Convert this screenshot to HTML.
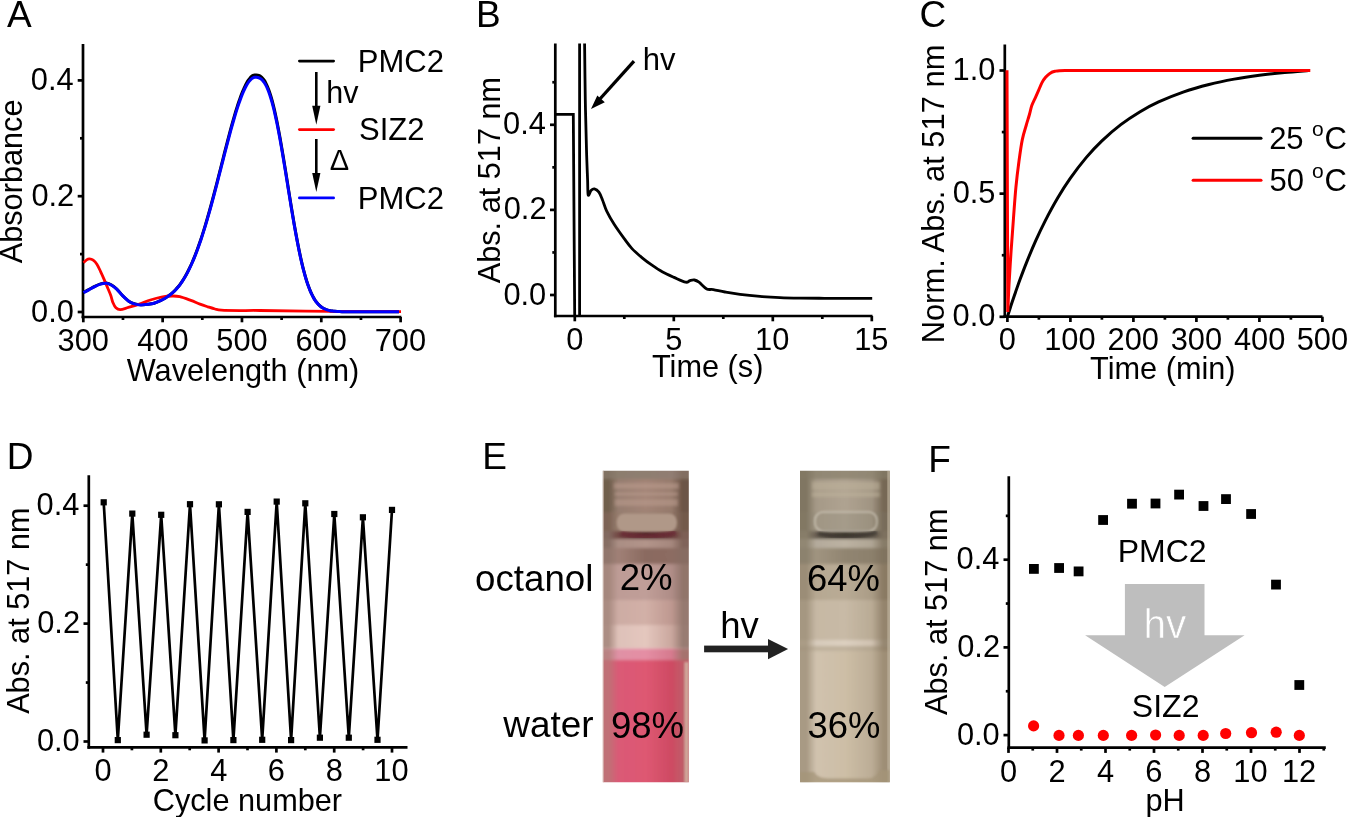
<!DOCTYPE html><html><head><meta charset="utf-8"><style>html,body{margin:0;padding:0;background:#fff;}svg{display:block;will-change:transform;}</style></head><body>
<svg width="1350" height="817" viewBox="0 0 1350 817" font-family='"Liberation Sans", sans-serif'>
<rect width="1350" height="817" fill="#fff"/>
<text x="6.93" y="26.8" font-size="37" fill="#000" >A</text>
<line x1="83" y1="44" x2="83" y2="318.35" stroke="#000" stroke-width="2.7" />
<line x1="81.65" y1="317" x2="401.4" y2="317" stroke="#000" stroke-width="2.7" />
<line x1="83.3" y1="317" x2="83.3" y2="322.3" stroke="#000" stroke-width="2.7" />
<text x="57.62" y="350.6" font-size="30.8" fill="#000" >300</text>
<line x1="162.63" y1="317" x2="162.63" y2="322.3" stroke="#000" stroke-width="2.7" />
<text x="137.18" y="350.6" font-size="30.8" fill="#000" >400</text>
<line x1="241.96" y1="317" x2="241.96" y2="322.3" stroke="#000" stroke-width="2.7" />
<text x="216.25" y="350.6" font-size="30.8" fill="#000" >500</text>
<line x1="321.29" y1="317" x2="321.29" y2="322.3" stroke="#000" stroke-width="2.7" />
<text x="295.42" y="350.6" font-size="30.8" fill="#000" >600</text>
<line x1="400.62" y1="317" x2="400.62" y2="322.3" stroke="#000" stroke-width="2.7" />
<text x="374.74" y="350.6" font-size="30.8" fill="#000" >700</text>
<line x1="122.97" y1="317" x2="122.97" y2="320" stroke="#000" stroke-width="2.7" />
<line x1="202.3" y1="317" x2="202.3" y2="320" stroke="#000" stroke-width="2.7" />
<line x1="281.62" y1="317" x2="281.62" y2="320" stroke="#000" stroke-width="2.7" />
<line x1="360.96" y1="317" x2="360.96" y2="320" stroke="#000" stroke-width="2.7" />
<line x1="77.7" y1="312" x2="83" y2="312" stroke="#000" stroke-width="2.7" />
<text x="31.09" y="321.5" font-size="30.8" fill="#000" >0.0</text>
<line x1="77.7" y1="196.2" x2="83" y2="196.2" stroke="#000" stroke-width="2.7" />
<text x="31.43" y="205.7" font-size="30.8" fill="#000" >0.2</text>
<line x1="77.7" y1="80.4" x2="83" y2="80.4" stroke="#000" stroke-width="2.7" />
<text x="30.79" y="89.9" font-size="30.8" fill="#000" >0.4</text>
<line x1="80" y1="254.1" x2="83" y2="254.1" stroke="#000" stroke-width="2.7" />
<line x1="80" y1="138.3" x2="83" y2="138.3" stroke="#000" stroke-width="2.7" />
<text x="126.77" y="380.8" font-size="30.7" fill="#000" >Wavelength (nm)</text>
<text transform="translate(22.3 263.26) rotate(-90)" x="0" y="0" font-size="30.7" fill="#000">Absorbance</text>
<path d="M83.5,292.41 C84.38,291.95 86.93,290.69 88.8,289.68 C90.67,288.67 92.73,287.32 94.7,286.35 C96.67,285.37 98.65,284.38 100.6,283.82 C102.55,283.27 104.57,282.83 106.4,283.01 C108.23,283.2 109.88,283.94 111.6,284.93 C113.32,285.93 114.88,287.22 116.7,288.97 C118.52,290.72 120.43,293.37 122.5,295.44 C124.57,297.51 127.02,299.96 129.1,301.39 C131.18,302.83 133.05,303.45 135,304.02 C136.95,304.59 138.85,304.78 140.8,304.83 C142.75,304.88 144.48,304.59 146.7,304.32 C148.92,304.05 151.71,303.88 154.1,303.21 C156.49,302.54 159.49,300.99 161.04,300.29 C162.6,299.6 162.63,299.47 163.42,299.02 C164.22,298.58 165.01,298.12 165.8,297.63 C166.6,297.13 167.39,296.62 168.18,296.07 C168.98,295.51 169.77,294.93 170.56,294.3 C171.36,293.67 172.15,293.01 172.94,292.29 C173.74,291.56 174.53,290.8 175.32,289.97 C176.12,289.14 176.91,288.27 177.7,287.32 C178.5,286.38 179.29,285.37 180.08,284.3 C180.88,283.22 181.67,282.08 182.46,280.87 C183.26,279.66 184.05,278.38 184.84,277.02 C185.64,275.66 186.43,274.23 187.22,272.72 C188.02,271.21 188.81,269.63 189.6,267.97 C190.4,266.31 191.19,264.57 191.98,262.76 C192.78,260.94 193.7,258.7 194.36,257.08 C195.02,255.46 195.42,254.42 195.95,253.04 C196.48,251.65 197.01,250.24 197.54,248.79 C198.06,247.34 198.59,245.86 199.12,244.34 C199.65,242.83 200.18,241.28 200.71,239.69 C201.24,238.11 201.77,236.5 202.3,234.86 C202.82,233.21 203.35,231.54 203.88,229.83 C204.41,228.12 204.94,226.39 205.47,224.62 C206,222.86 206.53,221.07 207.05,219.25 C207.58,217.43 208.11,215.58 208.64,213.71 C209.17,211.84 209.7,209.94 210.23,208.02 C210.76,206.1 211.29,204.16 211.81,202.2 C212.34,200.24 212.87,198.25 213.4,196.25 C213.93,194.25 214.46,192.23 214.99,190.2 C215.52,188.17 216.05,186.12 216.57,184.06 C217.1,182 217.63,179.93 218.16,177.85 C218.69,175.77 219.22,173.68 219.75,171.59 C220.28,169.49 220.81,167.4 221.33,165.3 C221.86,163.2 222.39,161.1 222.92,159.01 C223.45,156.91 223.98,154.82 224.51,152.74 C225.04,150.65 225.57,148.57 226.09,146.51 C226.62,144.45 227.15,142.39 227.68,140.36 C228.21,138.33 228.74,136.31 229.27,134.31 C229.8,132.32 230.32,130.34 230.85,128.39 C231.38,126.45 231.91,124.52 232.44,122.63 C232.97,120.74 233.5,118.88 234.03,117.06 C234.56,115.24 235.08,113.45 235.61,111.7 C236.14,109.96 236.67,108.25 237.2,106.6 C237.73,104.94 238.26,103.32 238.79,101.76 C239.32,100.21 239.84,98.69 240.37,97.24 C240.9,95.79 241.43,94.39 241.96,93.05 C242.49,91.72 243.02,90.44 243.55,89.23 C244.08,88.02 244.6,86.87 245.13,85.8 C245.66,84.72 246.19,83.71 246.72,82.78 C247.25,81.85 247.78,80.99 248.31,80.21 C248.84,79.44 249.36,78.73 249.89,78.12 C250.42,77.5 250.95,76.96 251.48,76.52 C252.01,76.07 252.54,75.71 253.07,75.45 C253.6,75.19 254.12,75.03 254.65,74.95 C255.18,74.87 255.71,74.92 256.24,74.95 C256.77,74.99 257.3,75.04 257.83,75.17 C258.35,75.29 258.88,75.46 259.41,75.71 C259.94,75.96 260.47,76.27 261,76.67 C261.53,77.08 262.06,77.56 262.59,78.14 C263.11,78.73 263.64,79.4 264.17,80.19 C264.7,80.98 265.23,81.86 265.76,82.87 C266.29,83.87 266.82,84.98 267.35,86.22 C267.87,87.45 268.4,88.8 268.93,90.27 C269.46,91.74 269.99,93.33 270.52,95.04 C271.05,96.75 271.58,98.58 272.11,100.52 C272.63,102.47 273.16,104.54 273.69,106.72 C274.22,108.9 274.75,111.2 275.28,113.59 C275.81,115.99 276.34,118.51 276.87,121.11 C277.39,123.71 277.92,126.43 278.45,129.21 C278.98,132 279.51,134.89 280.04,137.84 C280.57,140.79 281.1,143.83 281.62,146.92 C282.15,150 282.68,153.17 283.21,156.36 C283.74,159.55 284.27,162.8 284.8,166.07 C285.33,169.34 285.86,172.65 286.38,175.96 C286.91,179.27 287.44,182.6 287.97,185.92 C288.5,189.24 289.03,192.57 289.56,195.87 C290.09,199.16 290.62,202.45 291.14,205.69 C291.67,208.93 292.2,212.15 292.73,215.31 C293.26,218.47 293.79,221.59 294.32,224.64 C294.85,227.68 295.38,230.68 295.9,233.59 C296.43,236.51 296.96,239.36 297.49,242.12 C298.02,244.88 298.55,247.56 299.08,250.15 C299.61,252.74 300.14,255.24 300.66,257.65 C301.19,260.06 301.72,262.37 302.25,264.59 C302.78,266.81 303.31,268.93 303.84,270.95 C304.37,272.97 304.9,274.9 305.42,276.73 C305.95,278.55 306.48,280.28 307.01,281.92 C307.54,283.56 308.07,285.1 308.6,286.55 C309.13,288 309.65,289.36 310.18,290.63 C310.71,291.91 311.24,293.09 311.77,294.2 C312.3,295.31 312.83,296.33 313.36,297.29 C313.89,298.25 314.41,299.12 314.94,299.94 C315.47,300.76 316,301.5 316.53,302.19 C317.06,302.88 317.59,303.5 318.12,304.08 C318.65,304.65 319.17,305.17 319.7,305.65 C320.23,306.13 320.76,306.55 321.29,306.94 C321.82,307.34 322.22,307.62 322.88,308 C323.54,308.38 324.46,308.87 325.26,309.21 C326.05,309.56 326.84,309.83 327.64,310.07 C328.43,310.31 329.22,310.5 330.02,310.67 C330.81,310.83 331.6,310.96 332.4,311.07 C333.19,311.18 333.98,311.26 334.78,311.33 C335.57,311.41 336.36,311.46 337.16,311.5 C337.95,311.55 338.74,311.58 339.54,311.61 C340.33,311.64 341.12,311.66 341.92,311.68 C342.71,311.69 343.5,311.71 344.3,311.72 C345.09,311.73 345.88,311.73 346.68,311.74 C347.47,311.74 348.26,311.75 349.06,311.75 C349.85,311.75 350.64,311.76 351.44,311.76 C352.23,311.76 353.02,311.76 353.82,311.76 C354.61,311.76 355.4,311.76 356.2,311.76 C356.99,311.76 357.78,311.76 358.58,311.77 C359.37,311.77 360.16,311.77 360.96,311.77 C361.75,311.77 362.54,311.77 363.33,311.77 C364.13,311.77 364.92,311.77 365.71,311.77 C366.51,311.77 367.3,311.77 368.09,311.77 C368.89,311.77 369.68,311.77 370.47,311.77 C371.27,311.77 372.06,311.77 372.85,311.77 C373.65,311.77 374.44,311.77 375.23,311.77 C376.03,311.77 376.82,311.77 377.61,311.77 C378.41,311.77 379.2,311.77 379.99,311.77 C380.79,311.77 381.58,311.77 382.37,311.77 C383.17,311.77 383.96,311.77 384.75,311.77 C385.55,311.77 386.34,311.77 387.13,311.77 C387.93,311.77 388.72,311.77 389.51,311.77 C390.31,311.77 391.1,311.77 391.89,311.77 C392.69,311.77 393.48,311.77 394.27,311.77 C395.07,311.77 395.86,311.77 396.65,311.77 C397.45,311.77 398.64,311.77 399.03,311.77" fill="none" stroke="#000" stroke-width="3"/>
<path d="M83.5,262.8 C84.02,262.3 85.6,260.45 86.6,259.8 C87.6,259.15 88.4,258.83 89.5,258.9 C90.6,258.97 91.97,259.32 93.2,260.2 C94.43,261.08 95.67,262.3 96.9,264.2 C98.13,266.1 99.38,269.03 100.6,271.6 C101.82,274.17 102.98,276.78 104.2,279.6 C105.42,282.42 106.8,285.85 107.9,288.5 C109,291.15 109.97,293.17 110.8,295.5 C111.63,297.83 112.05,300.45 112.9,302.5 C113.75,304.55 114.67,306.62 115.9,307.8 C117.13,308.98 118.22,309.67 120.3,309.6 C122.38,309.53 125.22,308.32 128.4,307.4 C131.58,306.48 135.73,305.33 139.4,304.1 C143.07,302.87 146.73,301.17 150.4,300 C154.07,298.83 157.73,297.77 161.4,297.1 C165.07,296.43 169.33,296.07 172.4,296 C175.47,295.93 176.73,295.97 179.8,296.7 C182.87,297.43 187.43,299.17 190.8,300.4 C194.17,301.63 197.15,303.03 200,304.1 C202.85,305.17 205.4,305.98 207.9,306.8 C210.4,307.62 212.75,308.43 215,309 C217.25,309.57 217.23,309.93 221.4,310.2 C225.57,310.47 233.57,310.55 240,310.6 C246.43,310.65 245,310.38 260,310.5 C275,310.62 306.5,311.12 330,311.3 C353.5,311.48 389.17,311.55 401,311.6" fill="none" stroke="#f00" stroke-width="2.8"/>
<path d="M83.5,292.6 C84.38,292.15 86.93,290.9 88.8,289.9 C90.67,288.9 92.73,287.57 94.7,286.6 C96.67,285.63 98.65,284.65 100.6,284.1 C102.55,283.55 104.57,283.12 106.4,283.3 C108.23,283.48 109.88,284.22 111.6,285.2 C113.32,286.18 114.88,287.47 116.7,289.2 C118.52,290.93 120.43,293.55 122.5,295.6 C124.57,297.65 127.02,300.08 129.1,301.5 C131.18,302.92 133.05,303.53 135,304.1 C136.95,304.67 138.85,304.85 140.8,304.9 C142.75,304.95 144.48,304.67 146.7,304.4 C148.92,304.13 151.71,303.96 154.1,303.3 C156.49,302.64 159.49,301.1 161.04,300.41 C162.6,299.72 162.63,299.59 163.42,299.15 C164.22,298.71 165.01,298.26 165.8,297.77 C166.6,297.28 167.39,296.77 168.18,296.23 C168.98,295.68 169.77,295.1 170.56,294.48 C171.36,293.85 172.15,293.2 172.94,292.48 C173.74,291.77 174.53,291.01 175.32,290.19 C176.12,289.37 176.91,288.5 177.7,287.57 C178.5,286.63 179.29,285.64 180.08,284.57 C180.88,283.51 181.67,282.38 182.46,281.18 C183.26,279.98 184.05,278.71 184.84,277.36 C185.64,276.02 186.43,274.6 187.22,273.11 C188.02,271.62 188.81,270.05 189.6,268.41 C190.4,266.76 191.19,265.04 191.98,263.25 C192.78,261.45 193.7,259.23 194.36,257.62 C195.02,256.02 195.42,254.99 195.95,253.62 C196.48,252.25 197.01,250.85 197.54,249.42 C198.06,247.98 198.59,246.51 199.12,245.01 C199.65,243.51 200.18,241.98 200.71,240.41 C201.24,238.85 201.77,237.25 202.3,235.62 C202.82,233.99 203.35,232.33 203.88,230.64 C204.41,228.96 204.94,227.24 205.47,225.49 C206,223.74 206.53,221.97 207.05,220.17 C207.58,218.37 208.11,216.54 208.64,214.68 C209.17,212.83 209.7,210.95 210.23,209.05 C210.76,207.15 211.29,205.23 211.81,203.29 C212.34,201.34 212.87,199.38 213.4,197.4 C213.93,195.42 214.46,193.42 214.99,191.41 C215.52,189.39 216.05,187.36 216.57,185.32 C217.1,183.29 217.63,181.23 218.16,179.17 C218.69,177.12 219.22,175.05 219.75,172.98 C220.28,170.91 220.81,168.83 221.33,166.75 C221.86,164.68 222.39,162.59 222.92,160.52 C223.45,158.45 223.98,156.38 224.51,154.31 C225.04,152.25 225.57,150.19 226.09,148.15 C226.62,146.11 227.15,144.07 227.68,142.06 C228.21,140.05 228.74,138.05 229.27,136.07 C229.8,134.1 230.32,132.14 230.85,130.21 C231.38,128.28 231.91,126.38 232.44,124.51 C232.97,122.64 233.5,120.79 234.03,118.99 C234.56,117.18 235.08,115.41 235.61,113.69 C236.14,111.96 236.67,110.27 237.2,108.63 C237.73,106.99 238.26,105.39 238.79,103.85 C239.32,102.3 239.84,100.81 240.37,99.37 C240.9,97.93 241.43,96.54 241.96,95.22 C242.49,93.9 243.02,92.63 243.55,91.43 C244.08,90.24 244.6,89.1 245.13,88.04 C245.66,86.97 246.19,85.97 246.72,85.05 C247.25,84.13 247.78,83.28 248.31,82.51 C248.84,81.74 249.36,81.04 249.89,80.43 C250.42,79.82 250.95,79.29 251.48,78.85 C252.01,78.41 252.54,78.05 253.07,77.79 C253.6,77.53 254.12,77.38 254.65,77.3 C255.18,77.22 255.71,77.26 256.24,77.3 C256.77,77.34 257.3,77.39 257.83,77.51 C258.35,77.64 258.88,77.8 259.41,78.05 C259.94,78.3 260.47,78.6 261,79 C261.53,79.4 262.06,79.88 262.59,80.46 C263.11,81.04 263.64,81.71 264.17,82.49 C264.7,83.27 265.23,84.14 265.76,85.14 C266.29,86.13 266.82,87.23 267.35,88.45 C267.87,89.68 268.4,91.01 268.93,92.46 C269.46,93.92 269.99,95.49 270.52,97.19 C271.05,98.88 271.58,100.69 272.11,102.62 C272.63,104.55 273.16,106.6 273.69,108.75 C274.22,110.91 274.75,113.18 275.28,115.56 C275.81,117.93 276.34,120.42 276.87,123 C277.39,125.58 277.92,128.26 278.45,131.02 C278.98,133.79 279.51,136.65 280.04,139.57 C280.57,142.49 281.1,145.5 281.62,148.55 C282.15,151.61 282.68,154.74 283.21,157.9 C283.74,161.06 284.27,164.28 284.8,167.51 C285.33,170.75 285.86,174.03 286.38,177.3 C286.91,180.58 287.44,183.88 287.97,187.17 C288.5,190.46 289.03,193.75 289.56,197.02 C290.09,200.28 290.62,203.54 291.14,206.75 C291.67,209.95 292.2,213.14 292.73,216.27 C293.26,219.4 293.79,222.49 294.32,225.5 C294.85,228.52 295.38,231.49 295.9,234.37 C296.43,237.25 296.96,240.08 297.49,242.81 C298.02,245.54 298.55,248.2 299.08,250.76 C299.61,253.32 300.14,255.81 300.66,258.19 C301.19,260.57 301.72,262.86 302.25,265.06 C302.78,267.25 303.31,269.35 303.84,271.36 C304.37,273.36 304.9,275.27 305.42,277.08 C305.95,278.89 306.48,280.6 307.01,282.22 C307.54,283.84 308.07,285.36 308.6,286.8 C309.13,288.24 309.65,289.58 310.18,290.84 C310.71,292.11 311.24,293.28 311.77,294.38 C312.3,295.48 312.83,296.49 313.36,297.44 C313.89,298.38 314.41,299.25 314.94,300.06 C315.47,300.87 316,301.6 316.53,302.28 C317.06,302.97 317.59,303.58 318.12,304.16 C318.65,304.73 319.17,305.24 319.7,305.71 C320.23,306.18 320.76,306.61 321.29,306.99 C321.82,307.38 322.22,307.67 322.88,308.04 C323.54,308.41 324.46,308.9 325.26,309.24 C326.05,309.58 326.84,309.85 327.64,310.09 C328.43,310.33 329.22,310.51 330.02,310.68 C330.81,310.84 331.6,310.97 332.4,311.08 C333.19,311.19 333.98,311.27 334.78,311.34 C335.57,311.41 336.36,311.46 337.16,311.51 C337.95,311.55 338.74,311.59 339.54,311.61 C340.33,311.64 341.12,311.66 341.92,311.68 C342.71,311.7 343.5,311.71 344.3,311.72 C345.09,311.73 345.88,311.74 346.68,311.74 C347.47,311.75 348.26,311.75 349.06,311.75 C349.85,311.76 350.64,311.76 351.44,311.76 C352.23,311.76 353.02,311.76 353.82,311.76 C354.61,311.77 355.4,311.77 356.2,311.77 C356.99,311.77 357.78,311.77 358.58,311.77 C359.37,311.77 360.16,311.77 360.96,311.77 C361.75,311.77 362.54,311.77 363.33,311.77 C364.13,311.77 364.92,311.77 365.71,311.77 C366.51,311.77 367.3,311.77 368.09,311.77 C368.89,311.77 369.68,311.77 370.47,311.77 C371.27,311.77 372.06,311.77 372.85,311.77 C373.65,311.77 374.44,311.77 375.23,311.77 C376.03,311.77 376.82,311.77 377.61,311.77 C378.41,311.77 379.2,311.77 379.99,311.77 C380.79,311.77 381.58,311.77 382.37,311.77 C383.17,311.77 383.96,311.77 384.75,311.77 C385.55,311.77 386.34,311.77 387.13,311.77 C387.93,311.77 388.72,311.77 389.51,311.77 C390.31,311.77 391.1,311.77 391.89,311.77 C392.69,311.77 393.48,311.77 394.27,311.77 C395.07,311.77 395.86,311.77 396.65,311.77 C397.45,311.77 398.64,311.77 399.03,311.77" fill="none" stroke="#00f" stroke-width="3"/>
<line x1="299.4" y1="61.1" x2="333.6" y2="61.1" stroke="#000" stroke-width="2.8" stroke-linecap="round"/>
<line x1="299.4" y1="129.6" x2="333.6" y2="129.6" stroke="#f00" stroke-width="2.8" stroke-linecap="round"/>
<line x1="299.4" y1="197.9" x2="333.6" y2="197.9" stroke="#00f" stroke-width="2.8" stroke-linecap="round"/>
<line x1="316.3" y1="72" x2="316.3" y2="108.8" stroke="#000" stroke-width="2.6" />
<path d="M312.2,105.8 L320.4,105.8 L316.3,124.8Z" fill="#000"/>
<line x1="316.3" y1="139" x2="316.3" y2="176" stroke="#000" stroke-width="2.6" />
<path d="M312.2,173 L320.4,173 L316.3,192Z" fill="#000"/>
<text x="357.86" y="72" font-size="31" fill="#000" >PMC2</text>
<text x="358.99" y="140.2" font-size="31" fill="#000" >SIZ2</text>
<text x="357.86" y="208.5" font-size="31" fill="#000" >PMC2</text>
<text x="326.29" y="102.8" font-size="30.5" fill="#000" >hv</text>
<text x="329.74" y="170" font-size="29" fill="#000" >Δ</text>
<text x="476.06" y="26.8" font-size="37" fill="#000" >B</text>
<line x1="555.3" y1="43.5" x2="555.3" y2="317.35" stroke="#000" stroke-width="2.7" />
<line x1="553.95" y1="316" x2="872.5" y2="316" stroke="#000" stroke-width="2.7" />
<line x1="574.8" y1="316" x2="574.8" y2="321.3" stroke="#000" stroke-width="2.7" />
<text x="566.24" y="349.6" font-size="30.8" fill="#000" >0</text>
<line x1="673.8" y1="316" x2="673.8" y2="321.3" stroke="#000" stroke-width="2.7" />
<text x="665.27" y="349.6" font-size="30.8" fill="#000" >5</text>
<line x1="772.8" y1="316" x2="772.8" y2="321.3" stroke="#000" stroke-width="2.7" />
<text x="755.1" y="349.6" font-size="30.8" fill="#000" >10</text>
<line x1="871.8" y1="316" x2="871.8" y2="321.3" stroke="#000" stroke-width="2.7" />
<text x="854.14" y="349.6" font-size="30.8" fill="#000" >15</text>
<line x1="624.3" y1="316" x2="624.3" y2="319" stroke="#000" stroke-width="2.7" />
<line x1="723.3" y1="316" x2="723.3" y2="319" stroke="#000" stroke-width="2.7" />
<line x1="822.3" y1="316" x2="822.3" y2="319" stroke="#000" stroke-width="2.7" />
<line x1="550" y1="295" x2="555.3" y2="295" stroke="#000" stroke-width="2.7" />
<text x="503.39" y="304.5" font-size="30.8" fill="#000" >0.0</text>
<line x1="550" y1="209.9" x2="555.3" y2="209.9" stroke="#000" stroke-width="2.7" />
<text x="503.73" y="219.4" font-size="30.8" fill="#000" >0.2</text>
<line x1="550" y1="124.8" x2="555.3" y2="124.8" stroke="#000" stroke-width="2.7" />
<text x="503.09" y="134.3" font-size="30.8" fill="#000" >0.4</text>
<line x1="552.3" y1="252.45" x2="555.3" y2="252.45" stroke="#000" stroke-width="2.7" />
<line x1="552.3" y1="167.35" x2="555.3" y2="167.35" stroke="#000" stroke-width="2.7" />
<line x1="552.3" y1="82.25" x2="555.3" y2="82.25" stroke="#000" stroke-width="2.7" />
<text x="652.01" y="377.4" font-size="30.7" fill="#000" >Time (s)</text>
<text transform="translate(500.1 283.26) rotate(-90)" x="0" y="0" font-size="30.7" fill="#000">Abs. at 517 nm</text>
<clipPath id="cb"><rect x="556" y="43.5" width="317" height="272"/></clipPath>
<path clip-path="url(#cb)" d="M555.3,114.3 L573.3,114.3 L574.8,330 L579.6,330 L579.6,30 L584.3,30 L584.3,30 C584.35,32.33 584.43,32.33 584.6,44 C584.77,55.67 584.98,82.33 585.3,100 C585.62,117.67 586.12,136.67 586.5,150 C586.88,163.33 587.32,172.5 587.6,180 C587.88,187.5 587.63,193.25 588.2,195 C588.77,196.75 589.97,191.52 591,190.5 C592.03,189.48 593.08,188.62 594.4,188.9 C595.72,189.18 597.55,190.35 598.9,192.2 C600.25,194.05 601.2,196.85 602.5,200 C603.8,203.15 604.78,207.1 606.7,211.1 C608.62,215.1 611.05,219.37 614,224 C616.95,228.63 621.4,234.8 624.4,238.9 C627.4,243 629.03,245.45 632,248.6 C634.97,251.75 638.87,255.03 642.2,257.8 C645.53,260.57 648.67,262.87 652,265.2 C655.33,267.53 658.53,269.77 662.2,271.8 C665.87,273.83 670.1,275.67 674,277.4 C677.9,279.13 682.93,281.67 685.6,282.2 C688.27,282.73 688.53,280.97 690,280.6 C691.47,280.23 692.9,279.73 694.4,280 C695.9,280.27 696.95,280.72 699,282.2 C701.05,283.68 704.32,287.67 706.7,288.9 C709.08,290.13 710.25,289.08 713.3,289.6 C716.35,290.12 720.55,291.2 725,292 C729.45,292.8 734.17,293.67 740,294.4 C745.83,295.13 753.33,295.87 760,296.4 C766.67,296.93 773.33,297.32 780,297.6 C786.67,297.88 792.6,297.98 800,298.1 C807.4,298.22 816.07,298.25 824.4,298.3 C832.73,298.35 842.03,298.38 850,298.4 C857.97,298.42 868.5,298.4 872.2,298.4" fill="none" stroke="#000" stroke-width="2.8" stroke-linejoin="miter"/>
<line x1="634" y1="61.1" x2="599" y2="100" stroke="#000" stroke-width="3.3"/>
<path d="M591,109.1 L597.3,95.6 L604.8,102.3 Z" fill="#000"/>
<text x="642.85" y="69.7" font-size="31" fill="#000" >hv</text>
<text x="919.42" y="27" font-size="37" fill="#000" >C</text>
<line x1="1004.8" y1="44.5" x2="1004.8" y2="318.05" stroke="#000" stroke-width="2.7" />
<line x1="1003.45" y1="316.7" x2="1322.5" y2="316.7" stroke="#000" stroke-width="2.7" />
<line x1="1007.4" y1="316.7" x2="1007.4" y2="322" stroke="#000" stroke-width="2.7" />
<text x="998.84" y="349.9" font-size="30.8" fill="#000" >0</text>
<line x1="1070.4" y1="316.7" x2="1070.4" y2="322" stroke="#000" stroke-width="2.7" />
<text x="1044.13" y="349.9" font-size="30.8" fill="#000" >100</text>
<line x1="1133.4" y1="316.7" x2="1133.4" y2="322" stroke="#000" stroke-width="2.7" />
<text x="1107.53" y="349.9" font-size="30.8" fill="#000" >200</text>
<line x1="1196.4" y1="316.7" x2="1196.4" y2="322" stroke="#000" stroke-width="2.7" />
<text x="1170.72" y="349.9" font-size="30.8" fill="#000" >300</text>
<line x1="1259.4" y1="316.7" x2="1259.4" y2="322" stroke="#000" stroke-width="2.7" />
<text x="1233.95" y="349.9" font-size="30.8" fill="#000" >400</text>
<line x1="1322.4" y1="316.7" x2="1322.4" y2="322" stroke="#000" stroke-width="2.7" />
<text x="1296.69" y="349.9" font-size="30.8" fill="#000" >500</text>
<line x1="1038.9" y1="316.7" x2="1038.9" y2="319.7" stroke="#000" stroke-width="2.7" />
<line x1="1101.9" y1="316.7" x2="1101.9" y2="319.7" stroke="#000" stroke-width="2.7" />
<line x1="1164.9" y1="316.7" x2="1164.9" y2="319.7" stroke="#000" stroke-width="2.7" />
<line x1="1227.9" y1="316.7" x2="1227.9" y2="319.7" stroke="#000" stroke-width="2.7" />
<line x1="1290.9" y1="316.7" x2="1290.9" y2="319.7" stroke="#000" stroke-width="2.7" />
<line x1="999.5" y1="316.8" x2="1004.8" y2="316.8" stroke="#000" stroke-width="2.7" />
<text x="952.59" y="326.3" font-size="30.8" fill="#000" >0.0</text>
<line x1="999.5" y1="193.65" x2="1004.8" y2="193.65" stroke="#000" stroke-width="2.7" />
<text x="952.68" y="203.15" font-size="30.8" fill="#000" >0.5</text>
<line x1="999.5" y1="70.5" x2="1004.8" y2="70.5" stroke="#000" stroke-width="2.7" />
<text x="952.59" y="80" font-size="30.8" fill="#000" >1.0</text>
<line x1="1001.8" y1="255.23" x2="1004.8" y2="255.23" stroke="#000" stroke-width="2.7" />
<line x1="1001.8" y1="132.07" x2="1004.8" y2="132.07" stroke="#000" stroke-width="2.7" />
<text x="1090.11" y="379.2" font-size="30.7" fill="#000" >Time (min)</text>
<text transform="translate(944 343.37) rotate(-90)" x="0" y="0" font-size="30.9" fill="#000">Norm. Abs. at 517 nm</text>
<path d="M1007.4,316.8 C1007.92,315.15 1009.5,310.15 1010.55,306.93 C1011.6,303.7 1012.12,302 1013.7,297.44 C1015.27,292.88 1017.9,285.3 1020,279.57 C1022.1,273.84 1023.67,269.56 1026.3,263.07 C1028.92,256.59 1032.6,247.72 1035.75,240.68 C1038.9,233.63 1041.53,227.96 1045.2,220.81 C1048.88,213.66 1053.6,204.88 1057.8,197.77 C1062,190.66 1065.68,184.83 1070.4,178.14 C1075.12,171.45 1080.9,163.85 1086.15,157.63 C1091.4,151.42 1096.12,146.34 1101.9,140.84 C1107.68,135.35 1114.5,129.48 1120.8,124.66 C1127.1,119.84 1133.4,115.72 1139.7,111.93 C1146,108.14 1151.25,105.27 1158.6,101.92 C1165.95,98.56 1175.4,94.72 1183.8,91.81 C1192.2,88.9 1200.6,86.58 1209,84.47 C1217.4,82.35 1225.8,80.67 1234.2,79.14 C1242.6,77.6 1251,76.38 1259.4,75.26 C1267.8,74.15 1276.41,73.25 1284.6,72.45 C1292.79,71.66 1304.55,70.83 1308.54,70.5" fill="none" stroke="#000" stroke-width="3"/>
<path d="M1007,70.3 L1007.4,200 L1007.8,312 L1007.8,312 C1008,307.5 1008.45,295.17 1009,285 C1009.55,274.83 1010.35,262.17 1011.1,251 C1011.85,239.83 1012.7,228.62 1013.5,218 C1014.3,207.38 1014.98,196.8 1015.9,187.3 C1016.82,177.8 1017.93,168.95 1019,161 C1020.07,153.05 1021.08,145.6 1022.3,139.6 C1023.52,133.6 1025.13,129.1 1026.3,125 C1027.47,120.9 1028.38,118.23 1029.3,115 C1030.22,111.77 1030.8,108.47 1031.8,105.6 C1032.8,102.73 1034.15,100.38 1035.3,97.8 C1036.45,95.22 1037.57,92.67 1038.7,90.1 C1039.83,87.53 1040.95,84.53 1042.1,82.4 C1043.25,80.27 1044.32,78.8 1045.6,77.3 C1046.88,75.8 1048.23,74.4 1049.8,73.4 C1051.37,72.4 1052.47,71.78 1055,71.3 C1057.53,70.82 1057.5,70.65 1065,70.5 C1072.5,70.35 1077.5,70.42 1100,70.4 C1122.5,70.38 1164.95,70.38 1200,70.4 C1235.05,70.42 1291.92,70.48 1310.3,70.5" fill="none" stroke="#f00" stroke-width="3"/>
<line x1="1193.1" y1="138.3" x2="1261" y2="138.3" stroke="#000" stroke-width="3.0" stroke-linecap="round"/>
<line x1="1193.1" y1="180.2" x2="1261" y2="180.2" stroke="#f00" stroke-width="3.0" stroke-linecap="round"/>
<text x="1269.14" y="149.3" font-size="31" fill="#000" >25</text>
<text x="1312.12" y="136.4" font-size="21" fill="#000" >o</text>
<text x="1324.43" y="149.3" font-size="31" fill="#000" >C</text>
<text x="1269.46" y="190.6" font-size="31" fill="#000" >50</text>
<text x="1312.12" y="177.7" font-size="21" fill="#000" >o</text>
<text x="1324.43" y="190.6" font-size="31" fill="#000" >C</text>
<text x="6.86" y="468.5" font-size="37" fill="#000" >D</text>
<line x1="88.8" y1="475.3" x2="88.8" y2="748.65" stroke="#000" stroke-width="2.7" />
<line x1="87.45" y1="747.3" x2="407.5" y2="747.3" stroke="#000" stroke-width="2.7" />
<line x1="103" y1="747.3" x2="103" y2="752.6" stroke="#000" stroke-width="2.7" />
<text x="94.44" y="780.5" font-size="30.8" fill="#000" >0</text>
<line x1="160.8" y1="747.3" x2="160.8" y2="752.6" stroke="#000" stroke-width="2.7" />
<text x="152.24" y="780.5" font-size="30.8" fill="#000" >2</text>
<line x1="218.6" y1="747.3" x2="218.6" y2="752.6" stroke="#000" stroke-width="2.7" />
<text x="210.13" y="780.5" font-size="30.8" fill="#000" >4</text>
<line x1="276.4" y1="747.3" x2="276.4" y2="752.6" stroke="#000" stroke-width="2.7" />
<text x="267.73" y="780.5" font-size="30.8" fill="#000" >6</text>
<line x1="334.2" y1="747.3" x2="334.2" y2="752.6" stroke="#000" stroke-width="2.7" />
<text x="325.64" y="780.5" font-size="30.8" fill="#000" >8</text>
<line x1="392" y1="747.3" x2="392" y2="752.6" stroke="#000" stroke-width="2.7" />
<text x="374.3" y="780.5" font-size="30.8" fill="#000" >10</text>
<line x1="131.9" y1="747.3" x2="131.9" y2="750.3" stroke="#000" stroke-width="2.7" />
<line x1="189.7" y1="747.3" x2="189.7" y2="750.3" stroke="#000" stroke-width="2.7" />
<line x1="247.5" y1="747.3" x2="247.5" y2="750.3" stroke="#000" stroke-width="2.7" />
<line x1="305.3" y1="747.3" x2="305.3" y2="750.3" stroke="#000" stroke-width="2.7" />
<line x1="363.1" y1="747.3" x2="363.1" y2="750.3" stroke="#000" stroke-width="2.7" />
<line x1="83.5" y1="741.5" x2="88.8" y2="741.5" stroke="#000" stroke-width="2.7" />
<text x="36.89" y="751" font-size="30.8" fill="#000" >0.0</text>
<line x1="83.5" y1="623.6" x2="88.8" y2="623.6" stroke="#000" stroke-width="2.7" />
<text x="37.23" y="633.1" font-size="30.8" fill="#000" >0.2</text>
<line x1="83.5" y1="505.7" x2="88.8" y2="505.7" stroke="#000" stroke-width="2.7" />
<text x="36.59" y="515.2" font-size="30.8" fill="#000" >0.4</text>
<line x1="85.8" y1="682.55" x2="88.8" y2="682.55" stroke="#000" stroke-width="2.7" />
<line x1="85.8" y1="564.65" x2="88.8" y2="564.65" stroke="#000" stroke-width="2.7" />
<text x="152.74" y="810.5" font-size="30.7" fill="#000" >Cycle number</text>
<text transform="translate(28.8 713.86) rotate(-90)" x="0" y="0" font-size="30.7" fill="#000">Abs. at 517 nm</text>
<path d="M103.7,502.3 L117.8,740.1 L132.3,513.6 L146.6,734.7 L161.2,514.8 L175.4,735.2 L190,504.2 L204.6,740.4 L218.9,504.3 L233.4,740.1 L247.6,511.9 L262.2,739.8 L276.7,501.6 L291.1,740.1 L305.3,503.3 L319.9,737.7 L334.3,514 L348.8,737.7 L362.9,517.3 L377.5,739.8 L392,509.9" fill="none" stroke="#000" stroke-width="2.7" stroke-linejoin="miter" stroke-miterlimit="10"/>
<rect x="100.6" y="499.2" width="6.2" height="6.2" fill="#000"/>
<rect x="114.7" y="737" width="6.2" height="6.2" fill="#000"/>
<rect x="129.2" y="510.5" width="6.2" height="6.2" fill="#000"/>
<rect x="143.5" y="731.6" width="6.2" height="6.2" fill="#000"/>
<rect x="158.1" y="511.7" width="6.2" height="6.2" fill="#000"/>
<rect x="172.3" y="732.1" width="6.2" height="6.2" fill="#000"/>
<rect x="186.9" y="501.1" width="6.2" height="6.2" fill="#000"/>
<rect x="201.5" y="737.3" width="6.2" height="6.2" fill="#000"/>
<rect x="215.8" y="501.2" width="6.2" height="6.2" fill="#000"/>
<rect x="230.3" y="737" width="6.2" height="6.2" fill="#000"/>
<rect x="244.5" y="508.8" width="6.2" height="6.2" fill="#000"/>
<rect x="259.1" y="736.7" width="6.2" height="6.2" fill="#000"/>
<rect x="273.6" y="498.5" width="6.2" height="6.2" fill="#000"/>
<rect x="288" y="737" width="6.2" height="6.2" fill="#000"/>
<rect x="302.2" y="500.2" width="6.2" height="6.2" fill="#000"/>
<rect x="316.8" y="734.6" width="6.2" height="6.2" fill="#000"/>
<rect x="331.2" y="510.9" width="6.2" height="6.2" fill="#000"/>
<rect x="345.7" y="734.6" width="6.2" height="6.2" fill="#000"/>
<rect x="359.8" y="514.2" width="6.2" height="6.2" fill="#000"/>
<rect x="374.4" y="736.7" width="6.2" height="6.2" fill="#000"/>
<rect x="388.9" y="506.8" width="6.2" height="6.2" fill="#000"/>
<text x="928.16" y="471.7" font-size="37" fill="#000" >F</text>
<line x1="1008.8" y1="476.3" x2="1008.8" y2="748.95" stroke="#000" stroke-width="2.7" />
<line x1="1007.45" y1="747.6" x2="1325.8" y2="747.6" stroke="#000" stroke-width="2.7" />
<line x1="1008.5" y1="747.6" x2="1008.5" y2="752.9" stroke="#000" stroke-width="2.7" />
<text x="999.94" y="781.8" font-size="30.8" fill="#000" >0</text>
<line x1="1057" y1="747.6" x2="1057" y2="752.9" stroke="#000" stroke-width="2.7" />
<text x="1048.44" y="781.8" font-size="30.8" fill="#000" >2</text>
<line x1="1105.5" y1="747.6" x2="1105.5" y2="752.9" stroke="#000" stroke-width="2.7" />
<text x="1097.03" y="781.8" font-size="30.8" fill="#000" >4</text>
<line x1="1154" y1="747.6" x2="1154" y2="752.9" stroke="#000" stroke-width="2.7" />
<text x="1145.33" y="781.8" font-size="30.8" fill="#000" >6</text>
<line x1="1202.5" y1="747.6" x2="1202.5" y2="752.9" stroke="#000" stroke-width="2.7" />
<text x="1193.94" y="781.8" font-size="30.8" fill="#000" >8</text>
<line x1="1251" y1="747.6" x2="1251" y2="752.9" stroke="#000" stroke-width="2.7" />
<text x="1233.3" y="781.8" font-size="30.8" fill="#000" >10</text>
<line x1="1299.5" y1="747.6" x2="1299.5" y2="752.9" stroke="#000" stroke-width="2.7" />
<text x="1281.97" y="781.8" font-size="30.8" fill="#000" >12</text>
<line x1="1032.75" y1="747.6" x2="1032.75" y2="750.6" stroke="#000" stroke-width="2.7" />
<line x1="1081.25" y1="747.6" x2="1081.25" y2="750.6" stroke="#000" stroke-width="2.7" />
<line x1="1129.75" y1="747.6" x2="1129.75" y2="750.6" stroke="#000" stroke-width="2.7" />
<line x1="1178.25" y1="747.6" x2="1178.25" y2="750.6" stroke="#000" stroke-width="2.7" />
<line x1="1226.75" y1="747.6" x2="1226.75" y2="750.6" stroke="#000" stroke-width="2.7" />
<line x1="1275.25" y1="747.6" x2="1275.25" y2="750.6" stroke="#000" stroke-width="2.7" />
<line x1="1323.75" y1="747.6" x2="1323.75" y2="750.6" stroke="#000" stroke-width="2.7" />
<line x1="1003.5" y1="735.1" x2="1008.8" y2="735.1" stroke="#000" stroke-width="2.7" />
<text x="956.89" y="744.6" font-size="30.8" fill="#000" >0.0</text>
<line x1="1003.5" y1="647.4" x2="1008.8" y2="647.4" stroke="#000" stroke-width="2.7" />
<text x="957.23" y="656.9" font-size="30.8" fill="#000" >0.2</text>
<line x1="1003.5" y1="559.7" x2="1008.8" y2="559.7" stroke="#000" stroke-width="2.7" />
<text x="956.59" y="569.2" font-size="30.8" fill="#000" >0.4</text>
<line x1="1005.8" y1="691.25" x2="1008.8" y2="691.25" stroke="#000" stroke-width="2.7" />
<line x1="1005.8" y1="603.55" x2="1008.8" y2="603.55" stroke="#000" stroke-width="2.7" />
<line x1="1005.8" y1="515.85" x2="1008.8" y2="515.85" stroke="#000" stroke-width="2.7" />
<text x="1145.42" y="810.5" font-size="30.7" fill="#000" >pH</text>
<text transform="translate(947.3 714.96) rotate(-90)" x="0" y="0" font-size="30.7" fill="#000">Abs. at 517 nm</text>
<path d="M1124.9,584 L1204.5,584 L1204.5,635.2 L1244.6,635.2 L1164.7,687 L1085.1,635.2 L1124.9,635.2 Z" fill="#bebebe"/>
<text x="1143.59" y="638.1" font-size="40.5" fill="#fff" stroke="#bebebe" stroke-width="0.6">hv</text>
<text x="1117.67" y="562" font-size="32" fill="#000" >PMC2</text>
<text x="1131.85" y="716.9" font-size="32" fill="#000" >SIZ2</text>
<rect x="1029" y="564" width="9.8" height="9.8" fill="#000"/>
<rect x="1054.2" y="563.1" width="9.8" height="9.8" fill="#000"/>
<rect x="1073.7" y="566.5" width="9.8" height="9.8" fill="#000"/>
<rect x="1098.2" y="515.1" width="9.8" height="9.8" fill="#000"/>
<rect x="1127.1" y="498.8" width="9.8" height="9.8" fill="#000"/>
<rect x="1150.6" y="498.6" width="9.8" height="9.8" fill="#000"/>
<rect x="1174.2" y="489.7" width="9.8" height="9.8" fill="#000"/>
<rect x="1198.6" y="501.1" width="9.8" height="9.8" fill="#000"/>
<rect x="1221.1" y="494.2" width="9.8" height="9.8" fill="#000"/>
<rect x="1246.2" y="509.1" width="9.8" height="9.8" fill="#000"/>
<rect x="1271.1" y="579.7" width="9.8" height="9.8" fill="#000"/>
<rect x="1294.4" y="680.1" width="9.8" height="9.8" fill="#000"/>
<circle cx="1033.6" cy="725.9" r="5.6" fill="#f00"/>
<circle cx="1059" cy="735.4" r="5.6" fill="#f00"/>
<circle cx="1078.4" cy="735.4" r="5.6" fill="#f00"/>
<circle cx="1103.3" cy="735.4" r="5.6" fill="#f00"/>
<circle cx="1131.6" cy="735.4" r="5.6" fill="#f00"/>
<circle cx="1155.6" cy="735" r="5.6" fill="#f00"/>
<circle cx="1179.2" cy="735.4" r="5.6" fill="#f00"/>
<circle cx="1203.2" cy="735.4" r="5.6" fill="#f00"/>
<circle cx="1225.7" cy="733.5" r="5.6" fill="#f00"/>
<circle cx="1251.5" cy="732.7" r="5.6" fill="#f00"/>
<circle cx="1276.2" cy="732.2" r="5.6" fill="#f00"/>
<circle cx="1299.3" cy="735.4" r="5.6" fill="#f00"/>
<defs>
<filter id="bl1" x="-20%" y="-20%" width="140%" height="140%"><feGaussianBlur stdDeviation="1"/></filter>
<filter id="bl15" x="-20%" y="-20%" width="140%" height="140%"><feGaussianBlur stdDeviation="1.5"/></filter>
<filter id="bl2" x="-20%" y="-20%" width="140%" height="140%"><feGaussianBlur stdDeviation="2"/></filter>
<filter id="bv" x="-5%" y="-5%" width="110%" height="110%"><feGaussianBlur stdDeviation="0.8 1.8"/></filter>
</defs>
<clipPath id="c602"><rect x="602.8" y="470.8" width="86" height="311.4"/></clipPath><g clip-path="url(#c602)">
<g filter="url(#bv)">
<linearGradient id="pg1" x1="0" x2="1" y1="0" y2="0"><stop offset="0" stop-color="#827364"/><stop offset="0.1" stop-color="#827364"/><stop offset="0.2" stop-color="#8c7d6e"/><stop offset="0.5" stop-color="#8e7e70"/><stop offset="0.78" stop-color="#917d73"/><stop offset="0.9" stop-color="#826e62"/><stop offset="1.0" stop-color="#826e62"/></linearGradient>
<rect x="599.8" y="465" width="92" height="14" fill="url(#pg1)"/>
<linearGradient id="pg2" x1="0" x2="1" y1="0" y2="0"><stop offset="0" stop-color="#705e4c"/><stop offset="0.1" stop-color="#705e4c"/><stop offset="0.2" stop-color="#967d70"/><stop offset="0.5" stop-color="#a28476"/><stop offset="0.78" stop-color="#967a6c"/><stop offset="0.9" stop-color="#6c5546"/><stop offset="1.0" stop-color="#6c5546"/></linearGradient>
<rect x="599.8" y="479" width="92" height="33" fill="url(#pg2)"/>
<linearGradient id="pg3" x1="0" x2="1" y1="0" y2="0"><stop offset="0" stop-color="#7d6455"/><stop offset="0.1" stop-color="#7d6455"/><stop offset="0.2" stop-color="#967d6e"/><stop offset="0.5" stop-color="#9b8072"/><stop offset="0.78" stop-color="#917668"/><stop offset="0.9" stop-color="#735a4c"/><stop offset="1.0" stop-color="#735a4c"/></linearGradient>
<rect x="599.8" y="512" width="92" height="19" fill="url(#pg3)"/>
<linearGradient id="pg4" x1="0" x2="1" y1="0" y2="0"><stop offset="0" stop-color="#82695f"/><stop offset="0.1" stop-color="#82695f"/><stop offset="0.2" stop-color="#734844"/><stop offset="0.5" stop-color="#4e2426"/><stop offset="0.78" stop-color="#693c3c"/><stop offset="0.9" stop-color="#7d5f55"/><stop offset="1.0" stop-color="#7d5f55"/></linearGradient>
<rect x="599.8" y="531" width="92" height="8" fill="url(#pg4)"/>
<linearGradient id="pg5" x1="0" x2="1" y1="0" y2="0"><stop offset="0" stop-color="#876e64"/><stop offset="0.1" stop-color="#876e64"/><stop offset="0.2" stop-color="#aa8e84"/><stop offset="0.5" stop-color="#b2948a"/><stop offset="0.78" stop-color="#a5877d"/><stop offset="0.9" stop-color="#80645a"/><stop offset="1.0" stop-color="#80645a"/></linearGradient>
<rect x="599.8" y="539" width="92" height="9" fill="url(#pg5)"/>
<linearGradient id="pg6" x1="0" x2="1" y1="0" y2="0"><stop offset="0" stop-color="#91766c"/><stop offset="0.1" stop-color="#91766c"/><stop offset="0.2" stop-color="#a08076"/><stop offset="0.5" stop-color="#8a6a60"/><stop offset="0.78" stop-color="#8c6c62"/><stop offset="0.9" stop-color="#876c62"/><stop offset="1.0" stop-color="#876c62"/></linearGradient>
<rect x="599.8" y="548" width="92" height="16" fill="url(#pg6)"/>
<linearGradient id="pg7" x1="0" x2="1" y1="0" y2="0"><stop offset="0" stop-color="#a5877d"/><stop offset="0.1" stop-color="#a5877d"/><stop offset="0.2" stop-color="#be9c96"/><stop offset="0.5" stop-color="#c09e98"/><stop offset="0.78" stop-color="#af8d87"/><stop offset="0.9" stop-color="#91756b"/><stop offset="1.0" stop-color="#91756b"/></linearGradient>
<rect x="599.8" y="564" width="92" height="36" fill="url(#pg7)"/>
<linearGradient id="pg8" x1="0" x2="1" y1="0" y2="0"><stop offset="0" stop-color="#aa8c82"/><stop offset="0.1" stop-color="#aa8c82"/><stop offset="0.2" stop-color="#cdaca4"/><stop offset="0.5" stop-color="#d2b0a7"/><stop offset="0.78" stop-color="#be9890"/><stop offset="0.9" stop-color="#967a70"/><stop offset="1.0" stop-color="#967a70"/></linearGradient>
<rect x="599.8" y="600" width="92" height="25" fill="url(#pg8)"/>
<linearGradient id="pg9" x1="0" x2="1" y1="0" y2="0"><stop offset="0" stop-color="#ac8e84"/><stop offset="0.1" stop-color="#ac8e84"/><stop offset="0.2" stop-color="#dec1b9"/><stop offset="0.5" stop-color="#e4c7be"/><stop offset="0.78" stop-color="#caa79e"/><stop offset="0.9" stop-color="#987c72"/><stop offset="1.0" stop-color="#987c72"/></linearGradient>
<rect x="599.8" y="625" width="92" height="23.5" fill="url(#pg9)"/>
<linearGradient id="pg10" x1="0" x2="1" y1="0" y2="0"><stop offset="0" stop-color="#b98282"/><stop offset="0.1" stop-color="#b98282"/><stop offset="0.2" stop-color="#e091a5"/><stop offset="0.5" stop-color="#e48ea4"/><stop offset="0.78" stop-color="#d67a8e"/><stop offset="0.9" stop-color="#a5736e"/><stop offset="1.0" stop-color="#a5736e"/></linearGradient>
<rect x="599.8" y="648.5" width="92" height="11.5" fill="url(#pg10)"/>
<linearGradient id="pg11" x1="0" x2="1" y1="0" y2="0"><stop offset="0" stop-color="#c07076"/><stop offset="0.1" stop-color="#c07076"/><stop offset="0.2" stop-color="#da5a76"/><stop offset="0.5" stop-color="#de5872"/><stop offset="0.78" stop-color="#ce4a63"/><stop offset="0.9" stop-color="#c05c68"/><stop offset="1.0" stop-color="#c05c68"/></linearGradient>
<rect x="599.8" y="660" width="92" height="130" fill="url(#pg11)"/>
</g>
<g filter="url(#bl15)" fill="#b89a8c" opacity="0.6"><rect x="613.8" y="483" width="65" height="6"/><rect x="614.8" y="492" width="63" height="4"/><rect x="614.8" y="499" width="63" height="7"/></g>
<rect x="616.8" y="513.5" width="60" height="18" rx="8" fill="#b09888" filter="url(#bl1)"/>
<path d="M620.8,533.5 Q645.8,540 675.8,532.5" stroke="#6a2a34" stroke-width="5" fill="none" filter="url(#bl15)" opacity="0.85"/>
<rect x="602.8" y="470.8" width="1.2" height="311.4" fill="#d8c8c0" opacity="0.6"/>
<rect x="684.3" y="662" width="4.5" height="121" fill="#d2b4a4" opacity="0.85" filter="url(#bl1)"/>
</g>
<clipPath id="c800"><rect x="800" y="470.8" width="89.8" height="311.4"/></clipPath><g clip-path="url(#c800)">
<g filter="url(#bv)">
<linearGradient id="pg12" x1="0" x2="1" y1="0" y2="0"><stop offset="0" stop-color="#827864"/><stop offset="0.1" stop-color="#827864"/><stop offset="0.2" stop-color="#918773"/><stop offset="0.5" stop-color="#948a76"/><stop offset="0.78" stop-color="#918773"/><stop offset="0.9" stop-color="#807662"/><stop offset="1.0" stop-color="#807662"/></linearGradient>
<rect x="797" y="465" width="95.8" height="14" fill="url(#pg12)"/>
<linearGradient id="pg13" x1="0" x2="1" y1="0" y2="0"><stop offset="0" stop-color="#807662"/><stop offset="0.1" stop-color="#807662"/><stop offset="0.2" stop-color="#a59987"/><stop offset="0.5" stop-color="#afa391"/><stop offset="0.78" stop-color="#a09482"/><stop offset="0.9" stop-color="#766855"/><stop offset="1.0" stop-color="#766855"/></linearGradient>
<rect x="797" y="479" width="95.8" height="33" fill="url(#pg13)"/>
<linearGradient id="pg14" x1="0" x2="1" y1="0" y2="0"><stop offset="0" stop-color="#827864"/><stop offset="0.1" stop-color="#827864"/><stop offset="0.2" stop-color="#a09684"/><stop offset="0.5" stop-color="#a59b8a"/><stop offset="0.78" stop-color="#9b917f"/><stop offset="0.9" stop-color="#786c5a"/><stop offset="1.0" stop-color="#786c5a"/></linearGradient>
<rect x="797" y="512" width="95.8" height="19" fill="url(#pg14)"/>
<linearGradient id="pg15" x1="0" x2="1" y1="0" y2="0"><stop offset="0" stop-color="#877d69"/><stop offset="0.1" stop-color="#877d69"/><stop offset="0.2" stop-color="#695f52"/><stop offset="0.5" stop-color="#413a30"/><stop offset="0.78" stop-color="#5f564a"/><stop offset="0.9" stop-color="#7d715f"/><stop offset="1.0" stop-color="#7d715f"/></linearGradient>
<rect x="797" y="531" width="95.8" height="8" fill="url(#pg15)"/>
<linearGradient id="pg16" x1="0" x2="1" y1="0" y2="0"><stop offset="0" stop-color="#918773"/><stop offset="0.1" stop-color="#918773"/><stop offset="0.2" stop-color="#b4aa9b"/><stop offset="0.5" stop-color="#bcb2a2"/><stop offset="0.78" stop-color="#afa594"/><stop offset="0.9" stop-color="#877b67"/><stop offset="1.0" stop-color="#877b67"/></linearGradient>
<rect x="797" y="539" width="95.8" height="9" fill="url(#pg16)"/>
<linearGradient id="pg17" x1="0" x2="1" y1="0" y2="0"><stop offset="0" stop-color="#8c826e"/><stop offset="0.1" stop-color="#8c826e"/><stop offset="0.2" stop-color="#a09480"/><stop offset="0.5" stop-color="#918571"/><stop offset="0.78" stop-color="#8c806c"/><stop offset="0.9" stop-color="#80735f"/><stop offset="1.0" stop-color="#80735f"/></linearGradient>
<rect x="797" y="548" width="95.8" height="16" fill="url(#pg17)"/>
<linearGradient id="pg18" x1="0" x2="1" y1="0" y2="0"><stop offset="0" stop-color="#9b8d77"/><stop offset="0.1" stop-color="#9b8d77"/><stop offset="0.2" stop-color="#b6a892"/><stop offset="0.5" stop-color="#b9ab95"/><stop offset="0.78" stop-color="#aa9c86"/><stop offset="0.9" stop-color="#8a7a64"/><stop offset="1.0" stop-color="#8a7a64"/></linearGradient>
<rect x="797" y="564" width="95.8" height="36" fill="url(#pg18)"/>
<linearGradient id="pg19" x1="0" x2="1" y1="0" y2="0"><stop offset="0" stop-color="#a59781"/><stop offset="0.1" stop-color="#a59781"/><stop offset="0.2" stop-color="#c6b8a4"/><stop offset="0.5" stop-color="#c8baa6"/><stop offset="0.78" stop-color="#b9ab95"/><stop offset="0.9" stop-color="#94846d"/><stop offset="1.0" stop-color="#94846d"/></linearGradient>
<rect x="797" y="600" width="95.8" height="40" fill="url(#pg19)"/>
<linearGradient id="pg20" x1="0" x2="1" y1="0" y2="0"><stop offset="0" stop-color="#aa9c86"/><stop offset="0.1" stop-color="#aa9c86"/><stop offset="0.2" stop-color="#d7cbbb"/><stop offset="0.5" stop-color="#dcd0c0"/><stop offset="0.78" stop-color="#d0c2b1"/><stop offset="0.9" stop-color="#968872"/><stop offset="1.0" stop-color="#968872"/></linearGradient>
<rect x="797" y="640" width="95.8" height="6" fill="url(#pg20)"/>
<linearGradient id="pg21" x1="0" x2="1" y1="0" y2="0"><stop offset="0" stop-color="#a59781"/><stop offset="0.1" stop-color="#a59781"/><stop offset="0.2" stop-color="#c0b29e"/><stop offset="0.5" stop-color="#c0b29e"/><stop offset="0.78" stop-color="#b4a690"/><stop offset="0.9" stop-color="#94846d"/><stop offset="1.0" stop-color="#94846d"/></linearGradient>
<rect x="797" y="646" width="95.8" height="5" fill="url(#pg21)"/>
<linearGradient id="pg22" x1="0" x2="1" y1="0" y2="0"><stop offset="0" stop-color="#a89a84"/><stop offset="0.1" stop-color="#a89a84"/><stop offset="0.2" stop-color="#d0c2ae"/><stop offset="0.5" stop-color="#cdbea6"/><stop offset="0.78" stop-color="#bcad96"/><stop offset="0.9" stop-color="#9e8e76"/><stop offset="1.0" stop-color="#9e8e76"/></linearGradient>
<rect x="797" y="651" width="95.8" height="139" fill="url(#pg22)"/>
</g>
<g filter="url(#bl15)" fill="#c0b49c" opacity="0.55"><rect x="812" y="482" width="67.8" height="8"/><rect x="812" y="492" width="67.8" height="5"/></g>
<rect x="815" y="512" width="61.8" height="19" rx="8" fill="none" stroke="#d2cbbd" stroke-width="1.6" opacity="0.8" filter="url(#bl1)"/>
<path d="M818,533.5 Q844.9,540 876.8,532.5" stroke="#3a352e" stroke-width="4" fill="none" filter="url(#bl15)" opacity="0.8"/>
<rect x="887.3" y="470.8" width="2.5" height="311.4" fill="#bdb29c" opacity="0.7"/>
<path d="M800,772 L814,772 Q818,778.5 828,778.5 L867.8,778.5 Q875.8,778.5 879.8,770 L889.8,770 L889.8,783 L800,783 Z" fill="#a49478" opacity="0.75" filter="url(#bl1)"/>
</g>
<text x="482.16" y="468.5" font-size="37" fill="#000" >E</text>
<text x="475.06" y="590.6" font-size="36.7" fill="#000" >octanol</text>
<text x="503.25" y="737" font-size="36.9" fill="#000" >water</text>
<rect x="704.1" y="645.6" width="64.5" height="6.7" fill="#222"/>
<path d="M768,639 L788.1,649 L768,659.2 Z" fill="#222"/>
<text x="720.27" y="637.6" font-size="36.5" fill="#000" >hv</text>
<text x="619.66" y="590.4" font-size="36.6" fill="#000" >2%</text>
<text x="610.99" y="737.6" font-size="36.5" fill="#000" >98%</text>
<text x="807.05" y="590.5" font-size="36.4" fill="#000" >64%</text>
<text x="807.51" y="737.6" font-size="36.4" fill="#000" >36%</text>
</svg></body></html>
